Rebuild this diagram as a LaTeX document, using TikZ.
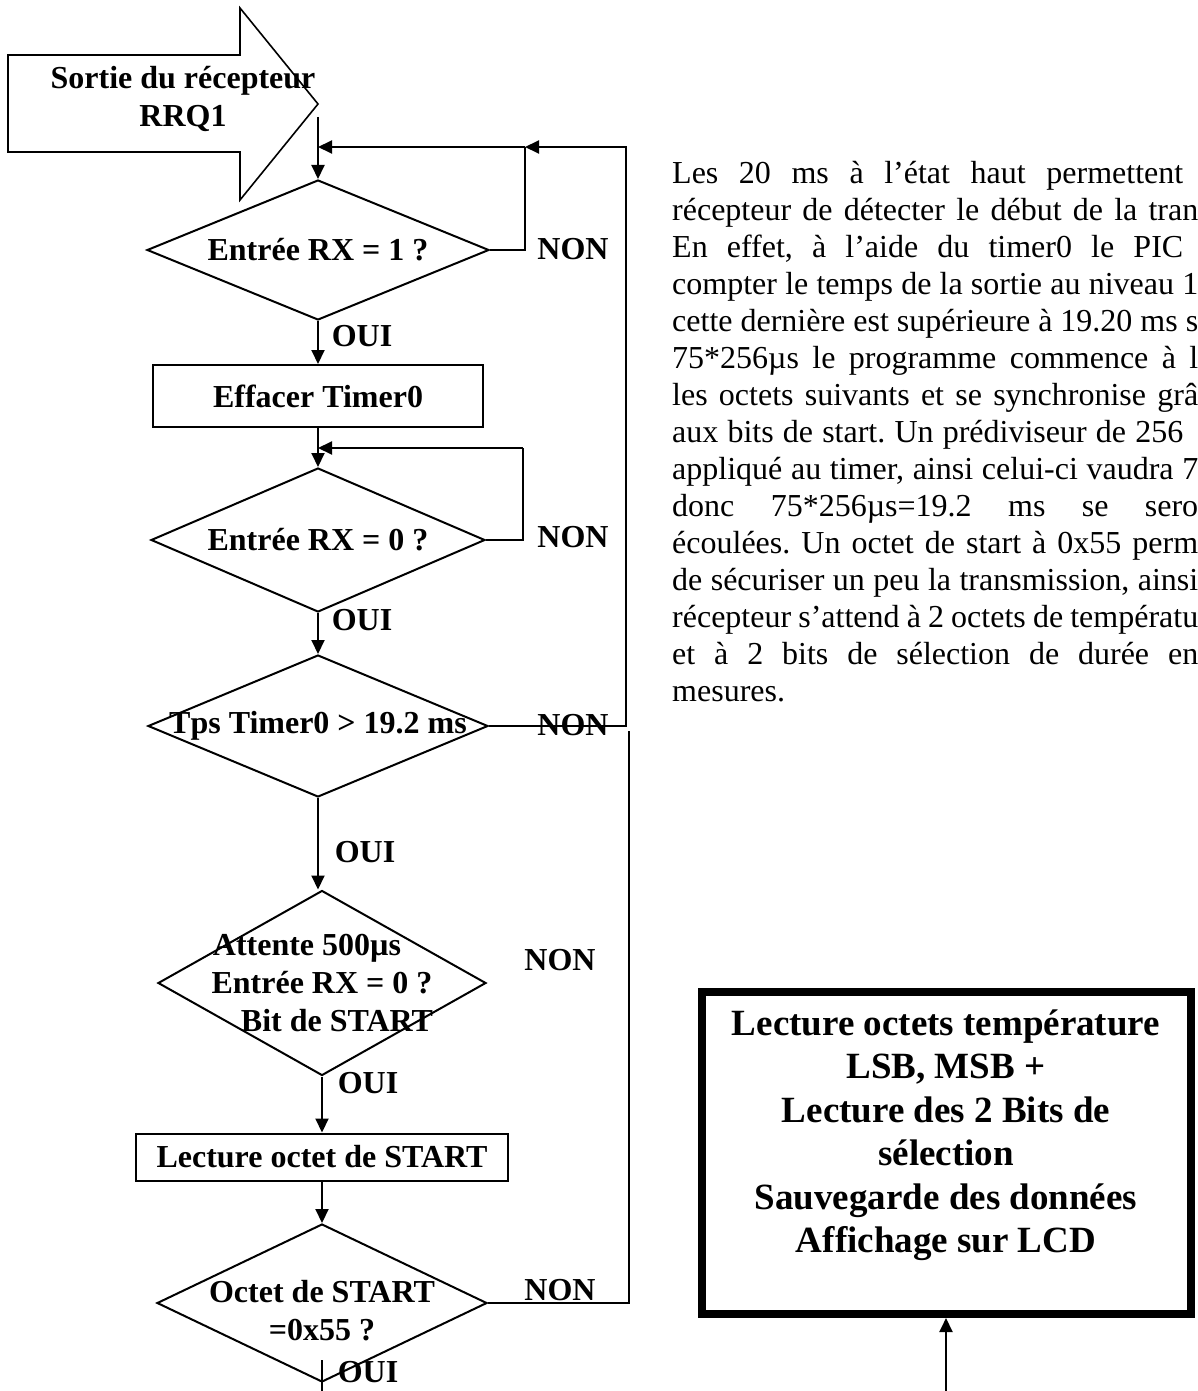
\documentclass[tikz,border=0pt]{standalone}
\usepackage{fontspec}
\setmainfont{Liberation Serif}
\usetikzlibrary{arrows.meta,shapes.geometric}
\tikzset{
  flow/.style={line width=2pt},
  flowarr/.style={line width=2pt,-{Triangle[length=14pt,width=13pt]}},
  decision/.style={diamond,draw,line width=2pt,inner sep=0pt},
  action/.style={rectangle,draw,line width=2pt,inner sep=0pt,font=\fontsize{32}{38}\selectfont\bfseries},
  btext/.style={font=\fontsize{32}{38}\selectfont\bfseries,inner sep=0pt,align=center},
}
\frenchspacing

\begin{document}
\begin{tikzpicture}[x=1pt,y=-1pt]
\useasboundingbox (0,0) rectangle (1198,1391);
\draw[line width=1.6pt] (8,55) -- (240,55) -- (240,8) -- (318,104) -- (240,200) -- (240,152) -- (8,152) -- cycle;
\node[btext] (src) at (183,99) {Sortie du récepteur\\RRQ1};
\coordinate (top) at (318,117);
\node[decision,minimum width=342pt,minimum height=140pt] (d1) at (318,250) {};
\node[action,minimum width=330pt,minimum height=62pt] (b1) at (318,396) {Effacer Timer0};
\node[decision,minimum width=334pt,minimum height=144pt] (d2) at (318,540) {};
\node[decision,minimum width=340pt,minimum height=142pt] (d3) at (318,726) {};
\node[decision,minimum width=328pt,minimum height=185pt] (d4) at (322,983) {};
\node[action,minimum width=372pt,minimum height=47pt] (b2) at (322,1157) {Lecture octet de START};
\node[decision,minimum width=330pt,minimum height=158pt] (d5) at (322,1303) {};
\node[btext] (t1) at (d1) {Entrée RX = 1 ?};
\node[btext] (t2) at (d2) {Entrée RX = 0 ?};
\node[btext] (t3) at (d3) {Tps Timer0 > 19.2 ms};
\node[btext] (t4) at (d4) {Attente 500µs\hspace*{30pt}\\Entrée RX = 0 ?\\\hspace*{30pt}Bit de START};
\node[btext] (t5) at (322,1311) {Octet de START\\=0x55 ?};
\coordinate (j1) at (525,147);
\coordinate (r1) at (626,147);
\coordinate (j2) at (523,448);
\coordinate (r2) at (629,731);
\coordinate (o5) at (322,1360);
\coordinate (end5) at (322,1391);
\draw[flowarr] (top) -- (d1.north);
\draw[flowarr] (d1.south) -- (b1.north);
\draw[flowarr] (b1.south) -- (d2.north);
\draw[flowarr] (d2.south) -- (d3.north);
\draw[flowarr] (d3.south) -- (d3.south |- d4.north);
\draw[flowarr] (d4.south) -- (b2.north);
\draw[flowarr] (b2.south) -- (d5.north);
\draw[flow] (d1.east) -| (j1);
\draw[flowarr] (j1) -- (top |- j1);
\draw[flowarr] (d3.east) -| (r1) -- (j1);
\draw[flow] (d2.east) -| (j2);
\draw[flowarr] (j2) -- (b1.south |- j2);
\draw[flow] (d5.east) -| (r2);
\draw[flow] (o5) -- (end5);
\foreach \x/\y/\n in {573/249/1,573/537/2,573/725/3,560/960/4,560/1290/5}
  \node[btext] (non\n) at (\x,\y) {NON};
\foreach \x/\y/\n in {362/336/1,362/620/2,365/852/3,368/1083/4,368/1372/5}
  \node[btext] (oui\n) at (\x,\y) {OUI};
\node[draw,line width=8pt,minimum width=489pt,minimum height=322pt,inner sep=0pt,font=\fontsize{37}{43.5}\selectfont\bfseries,align=center] (lcd) at (946,1153) {Lecture octets température\\LSB, MSB +\\Lecture des 2 Bits de\\sélection\\Sauvegarde des données\\Affichage sur LCD\\\mbox{}};
\coordinate (lcdin) at (946,1391);
\draw[flowarr] (lcdin) -- (lcd.south);
\node[anchor=north west,inner sep=0pt,text width=526pt,align=justify,font=\fontsize{32}{37}\selectfont] (txt) at (672,161) {Les 20 ms à l’état haut permettent\hspace*{15pt}\linebreak
récepteur de détecter le début de la tran\linebreak
En effet, à l’aide du timer0 le PIC\hspace*{15pt}\linebreak
compter le temps de la sortie au niveau 1\linebreak
cette dernière est supérieure à 19.20 ms s\linebreak
75*256µs le programme commence à l\linebreak
les octets suivants et se synchronise grâ\linebreak
aux bits de start. Un prédiviseur de 256\hspace*{15pt}\linebreak
appliqué au timer, ainsi celui-ci vaudra 7\linebreak
donc 75*256µs=19.2 ms se sero\linebreak
écoulées. Un octet de start à 0x55 perm\linebreak
de sécuriser un peu la transmission, ainsi\linebreak
récepteur s’attend à 2 octets de températu\linebreak
et à 2 bits de sélection de durée en\linebreak
mesures.};
\end{tikzpicture}
\end{document}
